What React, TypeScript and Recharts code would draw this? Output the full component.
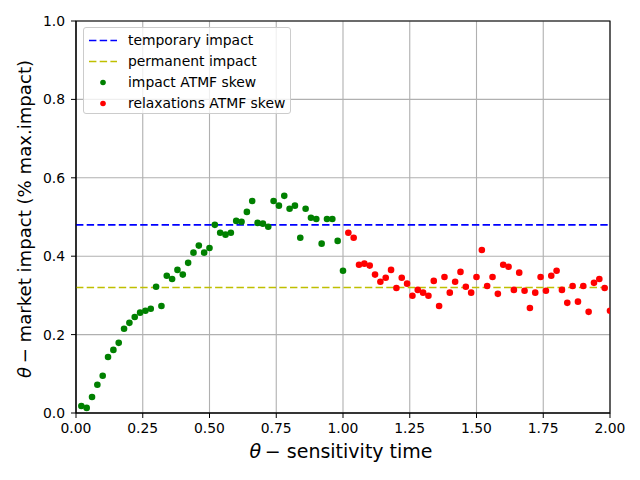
import { ScatterChart, Scatter, XAxis, YAxis, CartesianGrid, ReferenceLine, ReferenceArea, Legend, Label } from "recharts";

// impact phase (green) — sensitivity time vs ATMF skew impact
const impactTimes = [
  0.02, 0.04, 0.06, 0.08, 0.1, 0.12, 0.14, 0.16, 0.18, 0.2,
  0.22, 0.24, 0.26, 0.28, 0.3, 0.32, 0.34, 0.36, 0.38, 0.4,
  0.42, 0.44, 0.46, 0.48, 0.5, 0.52, 0.54, 0.56, 0.58, 0.6,
  0.62, 0.64, 0.66, 0.68, 0.7, 0.72, 0.74, 0.76, 0.78, 0.8,
  0.82, 0.84, 0.86, 0.88, 0.9, 0.92, 0.94, 0.96, 0.98, 1.0,
];
const impactSkew = [
  0.018, 0.013, 0.041, 0.072, 0.095, 0.143, 0.161, 0.179, 0.215, 0.23,
  0.245, 0.256, 0.261, 0.266, 0.322, 0.273, 0.35, 0.342, 0.365, 0.353,
  0.383, 0.409, 0.427, 0.409, 0.421, 0.48, 0.46, 0.455, 0.46, 0.49,
  0.488, 0.513, 0.541, 0.485, 0.483, 0.475, 0.541, 0.529, 0.554, 0.521,
  0.529, 0.447, 0.521, 0.498, 0.495, 0.432, 0.495, 0.495, 0.439, 0.363,
];

// relaxation phase (red)
const relaxTimes = [
  1.02, 1.04, 1.06, 1.08, 1.1, 1.12, 1.14, 1.16, 1.18, 1.2,
  1.22, 1.24, 1.26, 1.28, 1.3, 1.32, 1.34, 1.36, 1.38, 1.4,
  1.42, 1.44, 1.46, 1.48, 1.5, 1.52, 1.54, 1.56, 1.58, 1.6,
  1.62, 1.64, 1.66, 1.68, 1.7, 1.72, 1.74, 1.76, 1.78, 1.8,
  1.82, 1.84, 1.86, 1.88, 1.9, 1.92, 1.94, 1.96, 1.98, 2.0,
];
const relaxSkew = [
  0.46, 0.447, 0.378, 0.381, 0.376, 0.353, 0.335, 0.345, 0.365, 0.319,
  0.345, 0.33, 0.299, 0.314, 0.307, 0.299, 0.337, 0.273, 0.347, 0.307,
  0.335, 0.36, 0.322, 0.307, 0.347, 0.416, 0.324, 0.347, 0.304, 0.378,
  0.373, 0.314, 0.358, 0.312, 0.268, 0.307, 0.347, 0.312, 0.35, 0.363,
  0.314, 0.281, 0.324, 0.284, 0.324, 0.258, 0.332, 0.342, 0.319, 0.261,
];

const temporaryImpact = 0.48;
const permanentImpact = 0.32;

const xTicks = [0, 0.25, 0.5, 0.75, 1, 1.25, 1.5, 1.75, 2];
const yTicks = [0, 0.2, 0.4, 0.6, 0.8, 1];

const impactData = impactTimes.map((x, i) => ({ x, y: impactSkew[i] }));
const relaxData = relaxTimes.map((x, i) => ({ x, y: relaxSkew[i] }));

const FONT = "DejaVu Sans";
const tickStyle = { fill: "#000", fontSize: 13.9, fontFamily: FONT };
const DASH = "7.4 3.3";

function Dot({ cx, cy, fill }: { cx?: number; cy?: number; fill?: string }) {
  if (cx == null || cy == null) return null;
  return <circle cx={cx} cy={cy} r={3.3} fill={fill} />;
}

const legendItems = [
  { label: "temporary impact", kind: "line", color: "#0000ff" },
  { label: "permanent impact", kind: "line", color: "#bfbf00" },
  { label: "impact ATMF skew", kind: "dot", color: "#008000" },
  { label: "relaxations ATMF skew", kind: "dot", color: "#ff0000" },
];

function ChartLegend() {
  return (
    <div
      style={{
        width: 208,
        height: 87,
        border: "1px solid #cccccc",
        borderRadius: 3,
        background: "rgba(255,255,255,0.8)",
        fontFamily: FONT,
        fontSize: 13.9,
        color: "#000",
        boxSizing: "border-box",
        paddingTop: 1.5,
      }}
    >
      {legendItems.map((it) => (
        <div key={it.label} style={{ display: "flex", alignItems: "center", height: 21, lineHeight: "21px" }}>
          <svg width={44} height={21} style={{ flex: "none" }}>
            {it.kind === "line" ? (
              <line x1={5} x2={33} y1={10.5} y2={10.5} stroke={it.color} strokeWidth={1.5} strokeDasharray={DASH} />
            ) : (
              <circle cx={19} cy={10.5} r={2.8} fill={it.color} />
            )}
          </svg>
          <span style={{ whiteSpace: "nowrap" }}>{it.label}</span>
        </div>
      ))}
    </div>
  );
}

export default function App() {
  return (
    <div style={{ position: "absolute", left: 0, top: 0, width: 640, height: 480, background: "#fff", fontFamily: FONT }}>
      <ScatterChart width={640} height={480} margin={{ top: 21, right: 30, bottom: 0, left: 0 }}>
        <CartesianGrid stroke="#b0b0b0" strokeWidth={1.1} />
        <XAxis
          type="number"
          dataKey="x"
          domain={[0, 2]}
          ticks={xTicks}
          tickFormatter={(v: number) => v.toFixed(2)}
          tick={tickStyle}
          tickSize={5}
          tickMargin={5}
          height={67}
          stroke="#000"
          allowDataOverflow
        >
          <Label
            content={() => (
              <text x={341} y={458} textAnchor="middle" fontSize={19} fontFamily={FONT} fill="#000">
                <tspan fontStyle="italic">θ</tspan>
                <tspan>{"\u2009\u2212 sensitivity time"}</tspan>
              </text>
            )}
          />
        </XAxis>
        <YAxis
          type="number"
          dataKey="y"
          domain={[0, 1]}
          ticks={yTicks}
          tickFormatter={(v: number) => v.toFixed(1)}
          tick={tickStyle}
          tickSize={5}
          tickMargin={6}
          width={76}
          stroke="#000"
          allowDataOverflow
        >
          <Label
            content={() => (
              <text
                x={31}
                y={219}
                textAnchor="middle"
                fontSize={18.1}
                fontFamily={FONT}
                fill="#000"
                transform="rotate(-90 31 219)"
              >
                <tspan fontStyle="italic">θ</tspan>
                <tspan>{"\u2009\u2212 market impact (% max.impact)"}</tspan>
              </text>
            )}
          />
        </YAxis>
        <ReferenceLine y={temporaryImpact} stroke="#0000ff" strokeWidth={1.6} strokeDasharray={DASH} />
        <ReferenceLine y={permanentImpact} stroke="#bfbf00" strokeWidth={1.6} strokeDasharray={DASH} />
        <Scatter data={impactData} fill="#008000" shape={<Dot fill="#008000" />} isAnimationActive={false} />
        <Scatter data={relaxData} fill="#ff0000" shape={<Dot fill="#ff0000" />} isAnimationActive={false} />
        <ReferenceArea x1={0} x2={2} y1={0} y2={1} fill="none" stroke="#000" strokeWidth={1.1} ifOverflow="visible" />
        <Legend
          layout="vertical"
          align="center"
          verticalAlign="middle"
          content={() => <ChartLegend />}
          wrapperStyle={{ left: 83, top: 27, width: "auto" }}
        />
      </ScatterChart>
    </div>
  );
}
